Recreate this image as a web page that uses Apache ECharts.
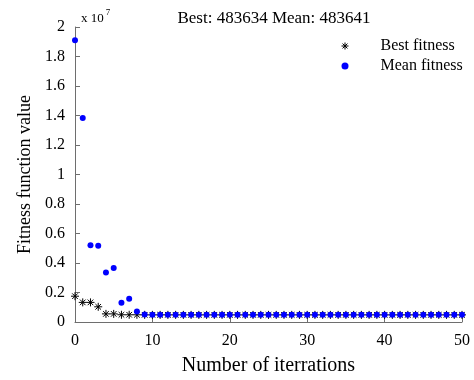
<!DOCTYPE html>
<html>
<head>
<meta charset="utf-8">
<script src="https://cdn.jsdelivr.net/npm/echarts@6/dist/echarts.min.js"></script>
<style>
  html, body { margin: 0; padding: 0; background: #fff; }
  #chart { width: 474px; height: 380px; }
</style>
</head>
<body>
<div id="chart"></div>
<script>
// Iteration index 0..50
const iterations = [0,1,2,3,4,5,6,7,8,9,10,11,12,13,14,15,16,17,18,19,20,21,22,23,24,25,26,27,28,29,30,31,32,33,34,35,36,37,38,39,40,41,42,43,44,45,46,47,48,49,50];

// Best fitness per iteration
const bestFitness = [1750000,1330000,1330000,1030000,550000,550000,490000,490000,489000,486000,
  485000,484800,484500,484200,484000,483900,483850,483800,483760,483740,
  483720,483700,483690,483680,483670,483665,483660,483656,483652,483650,
  483648,483646,483644,483642,483641,483640,483639,483638,483637,483637,
  483636,483636,483636,483635,483635,483635,483634,483634,483634,483634,483634];

// Mean fitness per iteration
const meanFitness = [19100000,13830000,5200000,5170000,3360000,3660000,1300000,1580000,720000,510000,
  495000,500000,492000,497000,490000,493000,489000,491000,488000,490000,
  487000,489000,486500,488000,486000,487000,485500,486000,485300,485600,
  485000,485200,484800,484900,484600,484700,484400,484500,484300,484200,
  484100,484000,483950,483900,483850,483800,483750,483700,483680,483660,483641];

const xTicks = { min: 0, max: 50, interval: 10 };
const yTicks = { min: 0, max: 20000000, interval: 2000000 };

const titleText = 'Best: 483634 Mean: 483641';
const serif = '"Liberation Serif", "DejaVu Serif", serif';

// Asterisk marker: plus and cross strokes
const asterisk = 'path://M0,-1L0,1M-1,0L1,0M-0.7,-0.7L0.7,0.7M-0.7,0.7L0.7,-0.7';

const chart = echarts.init(document.getElementById('chart'), null, { renderer: 'canvas' });

const axisCommon = {
  axisLine: { show: true, lineStyle: { color: '#6e6e6e', width: 1 } },
  axisTick: { show: true, inside: true, length: 5, lineStyle: { color: '#6e6e6e' } },
  splitLine: { show: false },
  axisLabel: { color: '#000', fontFamily: serif, fontSize: 16 },
  nameTextStyle: { color: '#000', fontFamily: serif, fontSize: 20 }
};

chart.setOption({
  animation: false,
  backgroundColor: '#fff',
  grid: { left: 75, right: 12, top: 27, bottom: 58, outerBoundsMode: 'none', containLabel: false },
  title: {
    text: titleText,
    left: 269, top: 5, textAlign: 'center',
    textStyle: { fontFamily: serif, fontSize: 17, fontWeight: 'normal', color: '#000' }
  },
  legend: {
    orient: 'vertical',
    left: 336, top: 33,
    itemWidth: 7, itemHeight: 7, itemGap: 4,
    textStyle: { fontFamily: serif, fontSize: 16, color: '#000', padding: [0, 0, 0, 27] },
    data: [
      { name: 'Best fitness', icon: asterisk, itemStyle: { color: 'transparent', borderColor: '#000', borderWidth: 1, opacity: 1 } },
      { name: 'Mean fitness', icon: 'circle', itemStyle: { color: '#0000ff', opacity: 1 } }
    ]
  },
  graphic: [{
    type: 'text',
    left: 81, top: 8,
    style: {
      text: '{b|x 10}{s|7}',
      rich: {
        b: { fontFamily: serif, fontSize: 13, fill: '#000', verticalAlign: 'bottom' },
        s: { fontFamily: serif, fontSize: 9, fill: '#000', verticalAlign: 'top', padding: [0, 0, 8, 2] }
      }
    }
  }],
  xAxis: Object.assign({}, axisCommon, {
    type: 'value',
    min: xTicks.min, max: xTicks.max, interval: xTicks.interval,
    name: 'Number of iterrations',
    nameLocation: 'middle', nameGap: 34,
    axisLabel: Object.assign({}, axisCommon.axisLabel, { margin: 11 })
  }),
  yAxis: Object.assign({}, axisCommon, {
    type: 'value',
    min: yTicks.min, max: yTicks.max, interval: yTicks.interval,
    name: 'Fitness function value',
    nameLocation: 'middle', nameGap: 39,
    nameTextStyle: { color: '#000', fontFamily: serif, fontSize: 18 },
    axisLabel: Object.assign({}, axisCommon.axisLabel, {
      margin: 10,
      formatter: v => String(+(v / 1e7).toFixed(1))
    })
  }),
  series: [
    {
      name: 'Best fitness',
      type: 'scatter',
      symbol: asterisk,
      symbolSize: 8,
      itemStyle: { color: 'transparent', borderColor: '#000', borderWidth: 1, opacity: 1 },
      data: iterations.map((x, i) => [x, bestFitness[i]]),
      z: 2
    },
    {
      name: 'Mean fitness',
      type: 'scatter',
      symbol: 'circle',
      symbolSize: 6,
      itemStyle: { color: '#0000ff', opacity: 1 },
      data: iterations.map((x, i) => [x, meanFitness[i]]),
      z: 3
    }
  ]
});
</script>
</body>
</html>
